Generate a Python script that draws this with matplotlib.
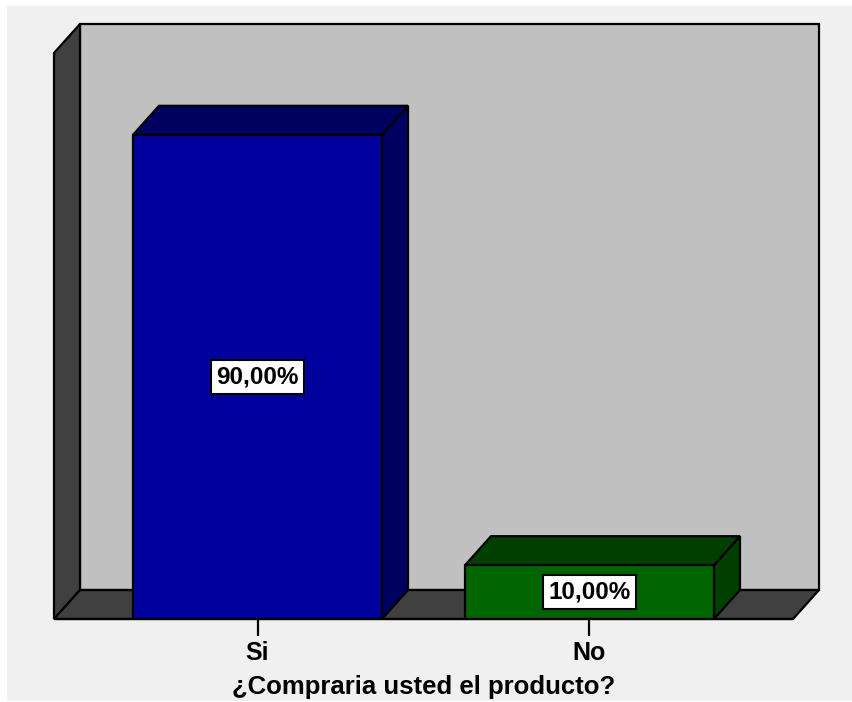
import matplotlib.pyplot as plt
import matplotlib.transforms as mtransforms
from matplotlib.patches import Rectangle, Polygon

# Data
categories = ["Si", "No"]
percentages = [90.0, 10.0]
labels = ["90,00%", "10,00%"]
xlabel = "¿Compraria usted el producto?"

front_colors = ["#00009c", "#006400"]
dark_colors = ["#000060", "#003f00"]
wall_color = "#c0c0c0"
side_color = "#404040"

plt.rcParams["font.family"] = ["Liberation Sans", "DejaVu Sans"]

fig = plt.figure(figsize=(8.52, 7.02), dpi=100)
fig.patches.append(Rectangle((7 / 852, 0.0015), 1, (696 / 702) - 0.0015,
                             transform=fig.transFigure, facecolor="#f0f0f0",
                             edgecolor="none", zorder=-10))

ax = fig.add_axes([54 / 852, 83 / 702, 739 / 852, 566 / 702])
ax.set_xlim(-0.613, 1.613)
ax.set_ylim(0, 105.2)
ax.patch.set_visible(False)
for s in ax.spines.values():
    s.set_visible(False)
ax.set_yticks([])

# depth offset for the pseudo 3D look
depth = mtransforms.ScaledTranslation(26 / 100, 29 / 100, fig.dpi_scale_trans)
back_ax = ax.transAxes + depth
lw = 1.6

# back wall
ax.add_patch(Rectangle((0, 0), 1, 1, transform=back_ax, facecolor=wall_color,
                       edgecolor="black", lw=lw, zorder=1, clip_on=False))

# left wall and floor drawn in display space via two corner points
def slab(p0, p1, color):
    t = ax.transAxes
    a = t.transform(p0)
    b = t.transform(p1)
    c = back_ax.transform(p1)
    d = back_ax.transform(p0)
    poly = Polygon([a, b, c, d], closed=True, transform=None,
                   facecolor=color, edgecolor="black", lw=lw, zorder=2,
                   clip_on=False)
    ax.add_artist(poly)

slab((0, 0), (0, 1), side_color)
slab((0, 0), (1, 0), side_color)

# bars
width = 0.75
for i, (val, fc, dc) in enumerate(zip(percentages, front_colors, dark_colors)):
    x0, x1 = i - width / 2, i + width / 2
    back = ax.transData + depth
    # right side
    pts = [ax.transData.transform(p) for p in [(x1, 0), (x1, val)]]
    pts += [back.transform(p) for p in [(x1, val), (x1, 0)]]
    ax.add_artist(Polygon(pts, closed=True, transform=None, facecolor=dc,
                          edgecolor="black", lw=lw, zorder=3, clip_on=False))
    # top
    pts = [ax.transData.transform(p) for p in [(x0, val), (x1, val)]]
    pts += [back.transform(p) for p in [(x1, val), (x0, val)]]
    ax.add_artist(Polygon(pts, closed=True, transform=None, facecolor=dc,
                          edgecolor="black", lw=lw, zorder=3, clip_on=False))
    # front
    ax.bar(i, val, width=width, color=fc, edgecolor="black", lw=lw, zorder=4)
    ax.text(i, val / 2, labels[i], ha="center", va="center", fontsize=17.5,
            fontweight="bold", zorder=6,
            bbox=dict(boxstyle="square,pad=0.22", facecolor="white",
                      edgecolor="black", lw=1.5))

# front floor edge
ax.plot([0, 1], [0, 0], transform=ax.transAxes, color="black", lw=lw,
        zorder=5, solid_capstyle="butt", clip_on=False)

ax.set_xticks(range(len(categories)))
ax.set_xticklabels(categories, fontsize=18, fontweight="bold")
ax.tick_params(axis="x", length=12, width=1.6, pad=4)
ax.set_xlabel(xlabel, fontsize=18.5, fontweight="bold", labelpad=7)

fig.savefig("out.png", dpi=100)
